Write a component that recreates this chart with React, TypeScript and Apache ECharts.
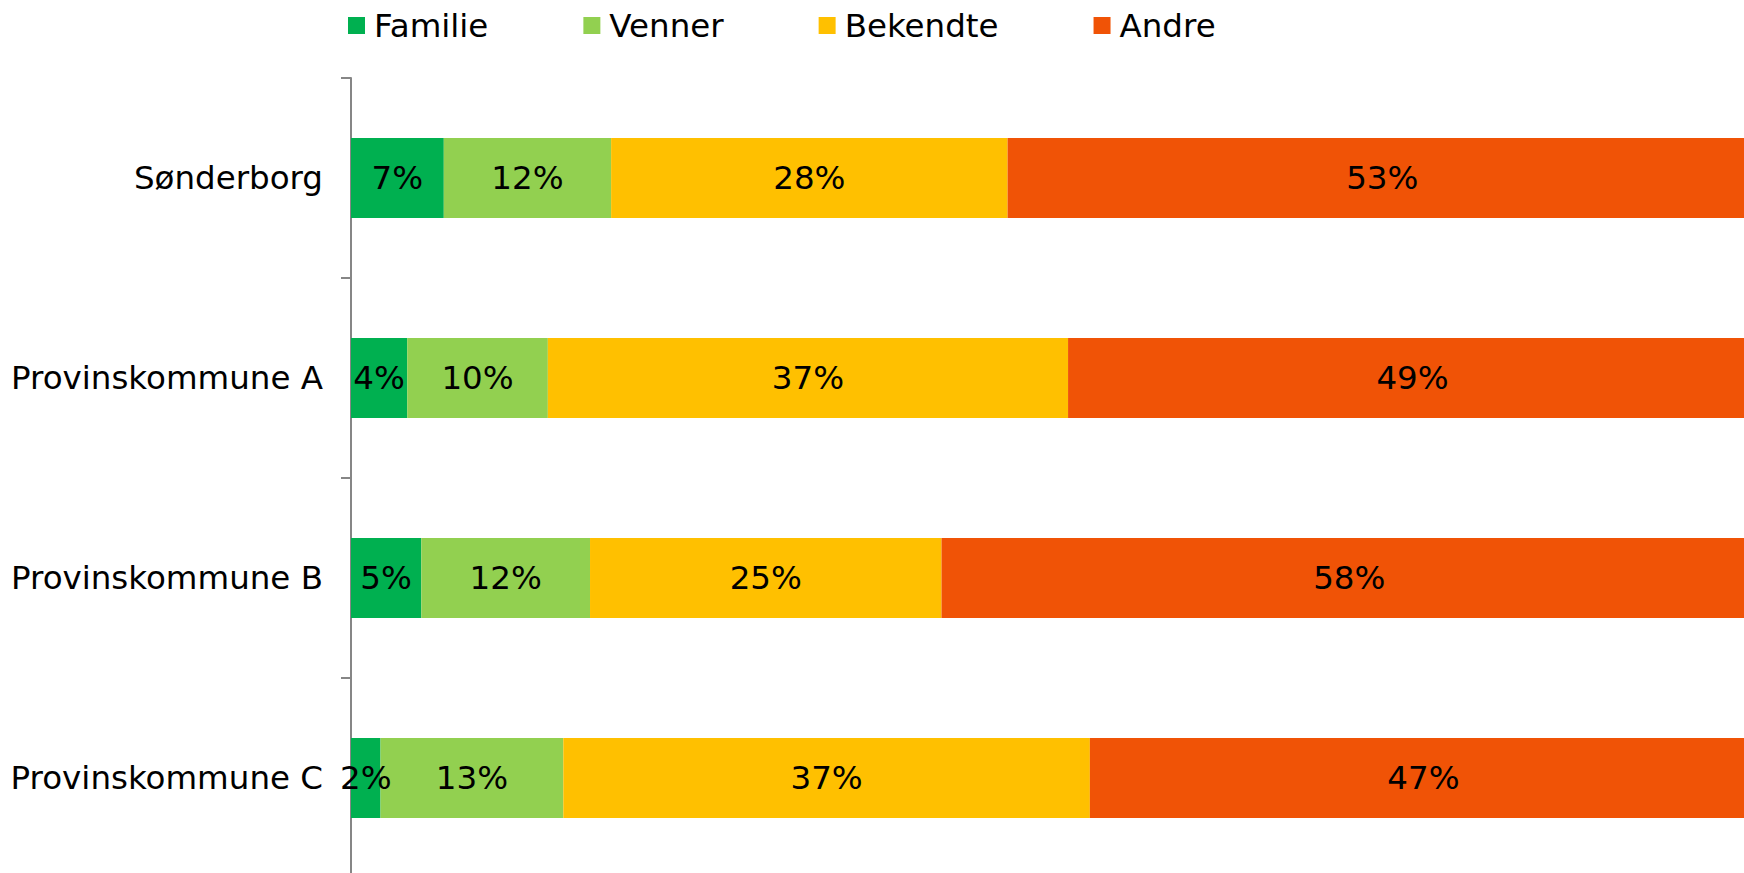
import React, { useEffect, useRef } from "react";
import * as echarts from "echarts";

const categories = ["Sønderborg", "Provinskommune A", "Provinskommune B", "Provinskommune C"];
const seriesNames = ["Familie", "Venner", "Bekendte", "Andre"];
const familie = [6.6, 4.0, 5.0, 2.1];
const venner = [11.9, 10.0, 12.0, 13.0];
const bekendte = [28.2, 37.0, 25.0, 37.45];
const andre = [53.3, 49.0, 58.0, 47.45];
const colors = ["#00B050", "#92D050", "#FFC000", "#F05306"];

const FONT = "DejaVu Sans";
const FS = 32.5;

export default function App() {
  const ref = useRef<HTMLDivElement>(null);
  useEffect(() => {
    document.body.style.margin = "0";
    document.body.style.overflow = "hidden";
    if (!ref.current) return;
    const chart = echarts.init(ref.current, null, { renderer: "svg" });
    const values = [familie, venner, bekendte, andre];
    chart.setOption({
      animation: false,
      textStyle: { fontFamily: FONT },
      legend: {
        top: 4,
        left: 343,
        itemGap: 95,
        itemWidth: 17,
        itemHeight: 17,
        icon: "rect",
        textStyle: { fontFamily: FONT, fontSize: FS, color: "#000", padding: [0, 0, 0, 4] },
        data: seriesNames,
      },
      grid: { left: 351, right: 0, top: 78, bottom: 2, containLabel: false },
      xAxis: {
        type: "value",
        min: 0,
        max: 100,
        show: false,
      },
      yAxis: {
        type: "category",
        inverse: true,
        data: categories,
        axisLine: { show: true, lineStyle: { color: "#868686", width: 2 } },
        axisTick: { show: true, length: 10, lineStyle: { color: "#868686", width: 2 } },
        axisLabel: { fontFamily: FONT, fontSize: FS, color: "#000", margin: 28 },
      },
      series: seriesNames.map((name, i) => ({
        name,
        type: "bar",
        stack: "total",
        barWidth: 80,
        itemStyle: { color: colors[i] },
        label: {
          show: true,
          position: "inside",
          fontFamily: FONT,
          fontSize: FS,
          color: "#000",
          formatter: (p: any) => Math.round(p.value) + "%",
        },
        data: values[i],
      })),
    });
    return () => chart.dispose();
  }, []);
  return <div ref={ref} style={{ width: 1757, height: 880 }} />;
}
